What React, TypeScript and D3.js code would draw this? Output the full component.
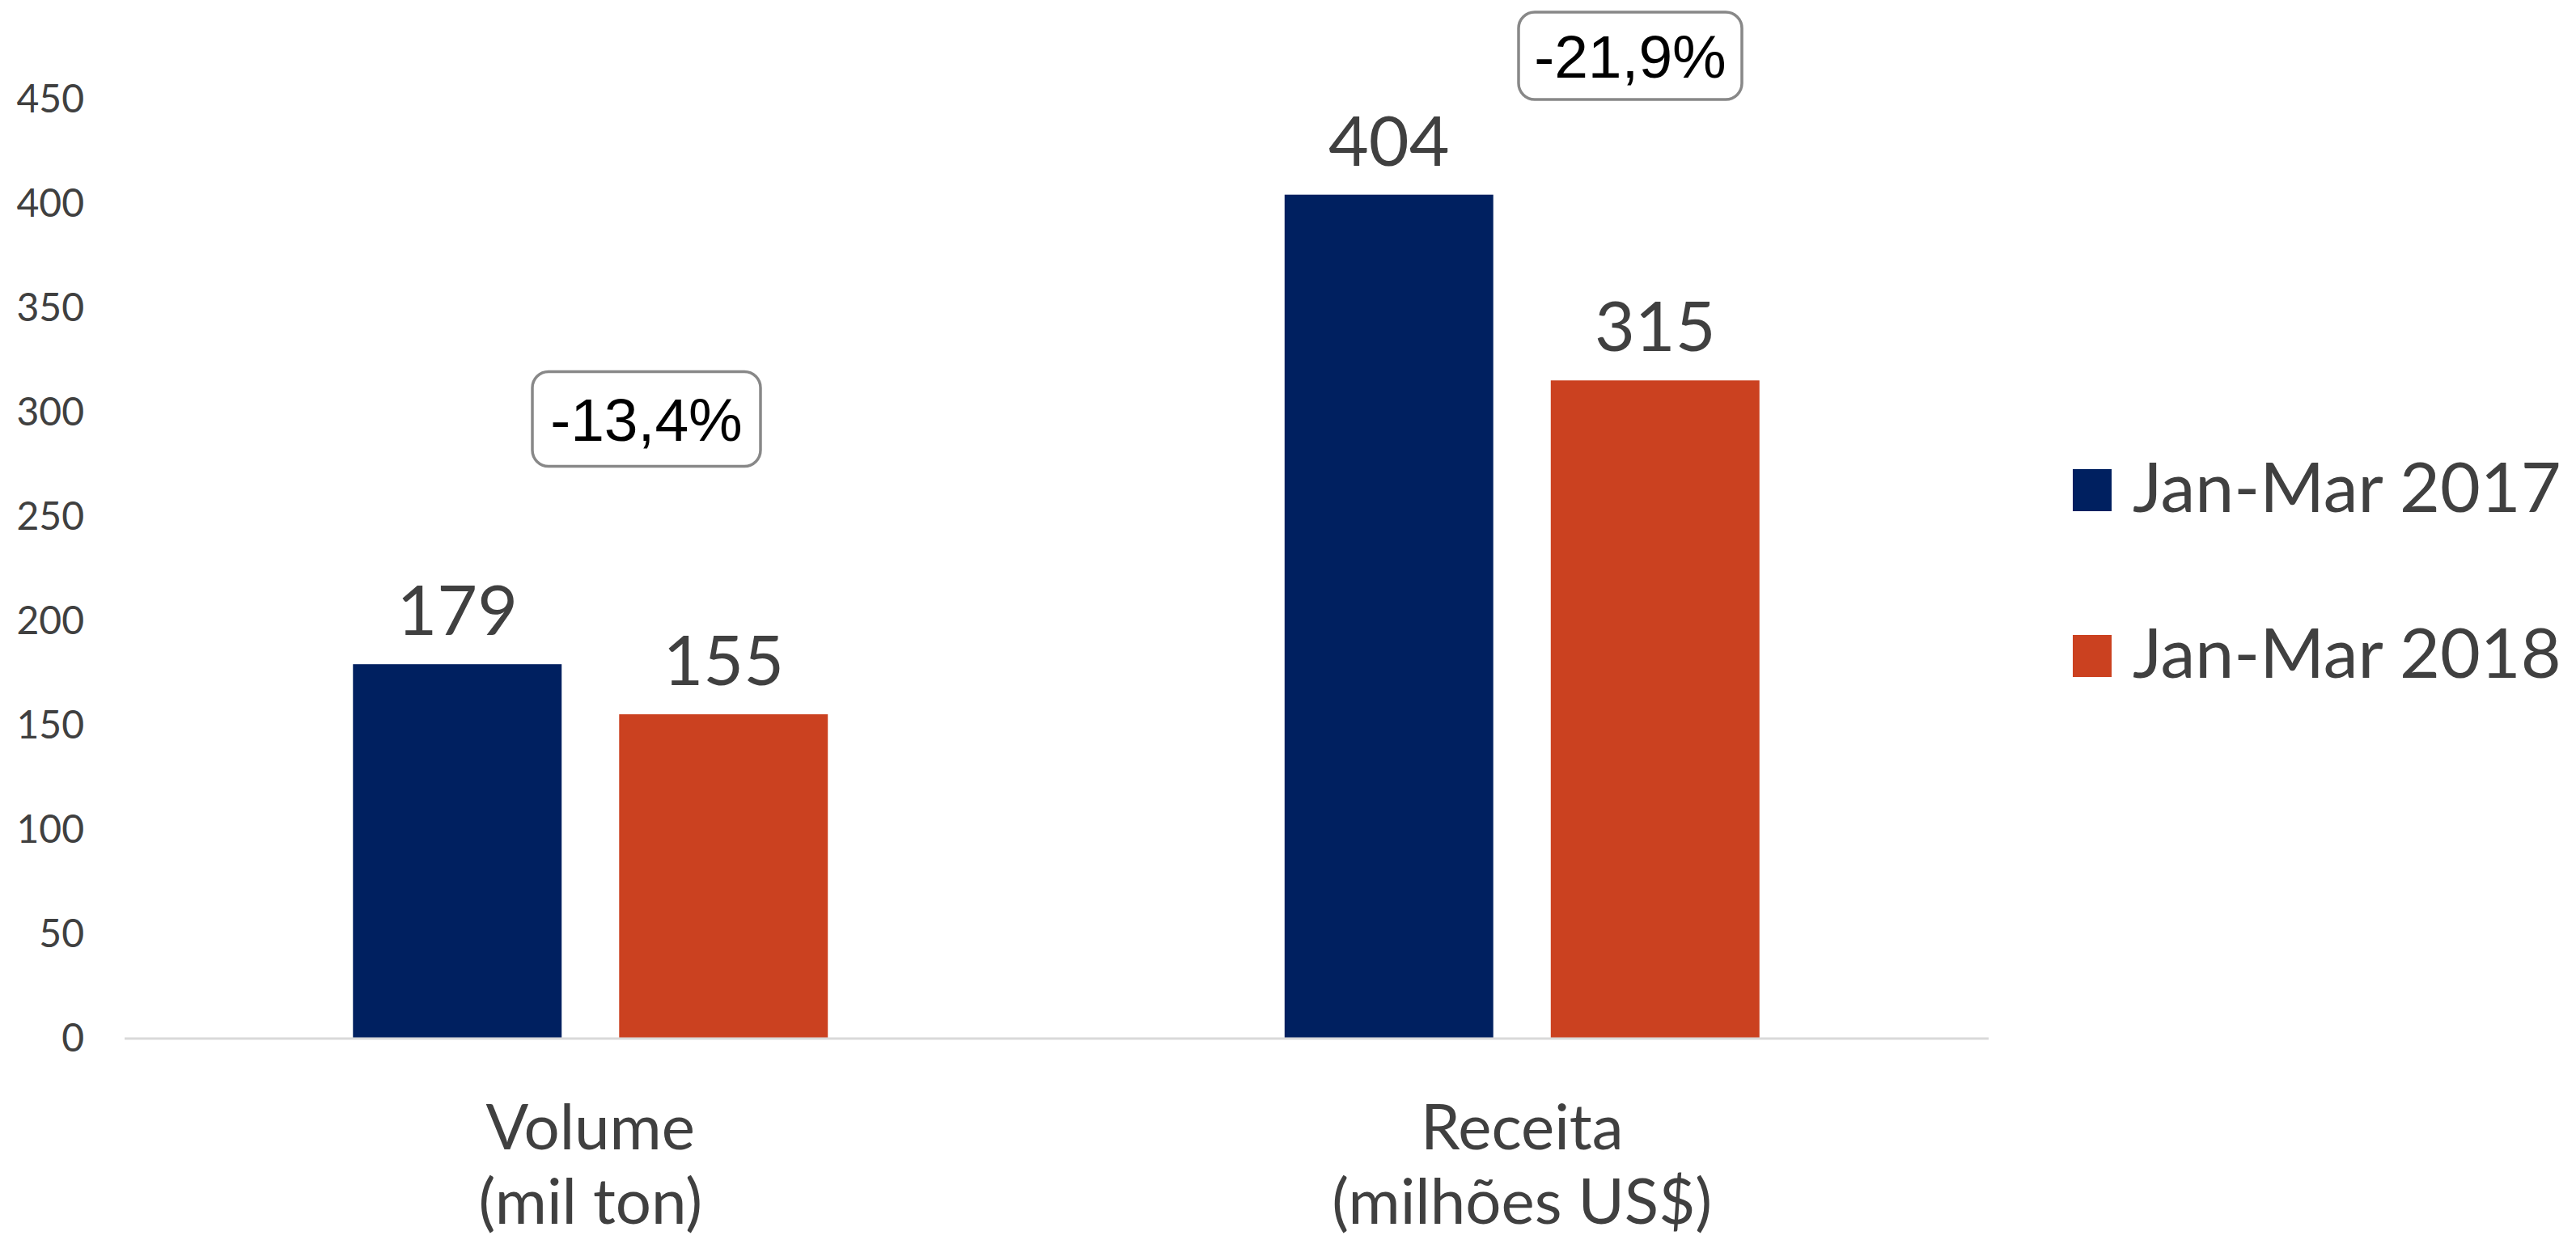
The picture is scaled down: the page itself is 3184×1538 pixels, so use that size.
import React from "react";
import * as d3 from "d3";

const categories = ["Volume|(mil ton)", "Receita|(milhões US$)"];
const seriesNames = ["Jan-Mar 2017", "Jan-Mar 2018"];
const values2017 = [179, 404];
const values2018 = [155, 315];
const yTicks = [0, 50, 100, 150, 200, 250, 300, 350, 400, 450];
const changeLabels = ["-13,4%", "-21,9%"];

const W = 3184;
const H = 1538;
const COLORS = ["#002060", "#CB4120"];
const TEXT = "#404040";

export default function App() {
  const x0 = d3.scaleBand<string>().domain(categories).range([154, 2457]).paddingInner(0).paddingOuter(0);
  const x1 = d3
    .scaleBand<string>()
    .domain(seriesNames)
    .range([0, x0.bandwidth()])
    .paddingInner(0.216)
    .paddingOuter(0.858);
  const y = d3.scaleLinear().domain([0, 450]).range([1283, 122]);
  const series = [values2017, values2018];

  // annotation boxes layout
  const boxes = [
    { cx: 799, cy: 518, w: 282, h: 117 },
    { cx: 2015, cy: 69, w: 276, h: 108 },
  ];

  return (
    <svg width={W} height={H} style={{ display: "block", position: "absolute", left: 0, top: 0 }}>
      <rect x={0} y={0} width={W} height={H} fill="#fff" />
      {/* y tick labels */}
      {yTicks.map((t) => (
        <text
          key={t}
          x={104}
          y={y(t)}
          dy="0.36em"
          textAnchor="end"
          fontFamily="Lato"
          fontSize={48}
          fill={TEXT}
        >
          {t}
        </text>
      ))}
      {/* bars */}
      {categories.map((c, ci) => (
        <g key={c} transform={`translate(${x0(c)},0)`}>
          {seriesNames.map((s, si) => {
            const v = series[si][ci];
            const bx = x1(s)!;
            return (
              <g key={s}>
                <rect x={bx} y={y(v)} width={x1.bandwidth()} height={y(0) - y(v)} fill={COLORS[si]} />
                <text
                  x={bx + x1.bandwidth() / 2}
                  y={y(v) - 36}
                  textAnchor="middle"
                  fontFamily="Lato"
                  fontSize={86}
                  fill={TEXT}
                >
                  {v}
                </text>
              </g>
            );
          })}
        </g>
      ))}
      {/* axis line */}
      <line x1={154} x2={2458} y1={y(0) + 1} y2={y(0) + 1} stroke="#d9d9d9" strokeWidth={3} />
      {/* category labels */}
      {categories.map((c) => {
        const cx = x0(c)! + x0.bandwidth() / 2;
        const lines = c.split("|");
        return (
          <text key={c} textAnchor="middle" fontFamily="Lato" fontSize={78} fill={TEXT}>
            {lines.map((l, i) => (
              <tspan key={i} x={cx} y={1421 + i * 92}>
                {l}
              </tspan>
            ))}
          </text>
        );
      })}
      {/* change annotations */}
      {changeLabels.map((lab, i) => {
        const b = boxes[i];
        return (
          <g key={lab}>
            <rect
              x={b.cx - b.w / 2}
              y={b.cy - b.h / 2}
              width={b.w}
              height={b.h}
              rx={20}
              ry={20}
              fill="#fff"
              stroke="#888"
              strokeWidth={3.5}
            />
            <text
              x={b.cx}
              y={b.cy + 27}
              textAnchor="middle"
              fontFamily="Liberation Sans"
              fontSize={75}
              fill="#000"
            >
              {lab}
            </text>
          </g>
        );
      })}
      {/* legend */}
      {seriesNames.map((s, i) => (
        <g key={s} transform={`translate(0,${i * 205})`}>
          <rect x={2562} y={580} width={48} height={52} fill={COLORS[i]} />
          <text x={2636} y={633} fontFamily="Lato" fontSize={86} fill={TEXT}>
            {s}
          </text>
        </g>
      ))}
    </svg>
  );
}
